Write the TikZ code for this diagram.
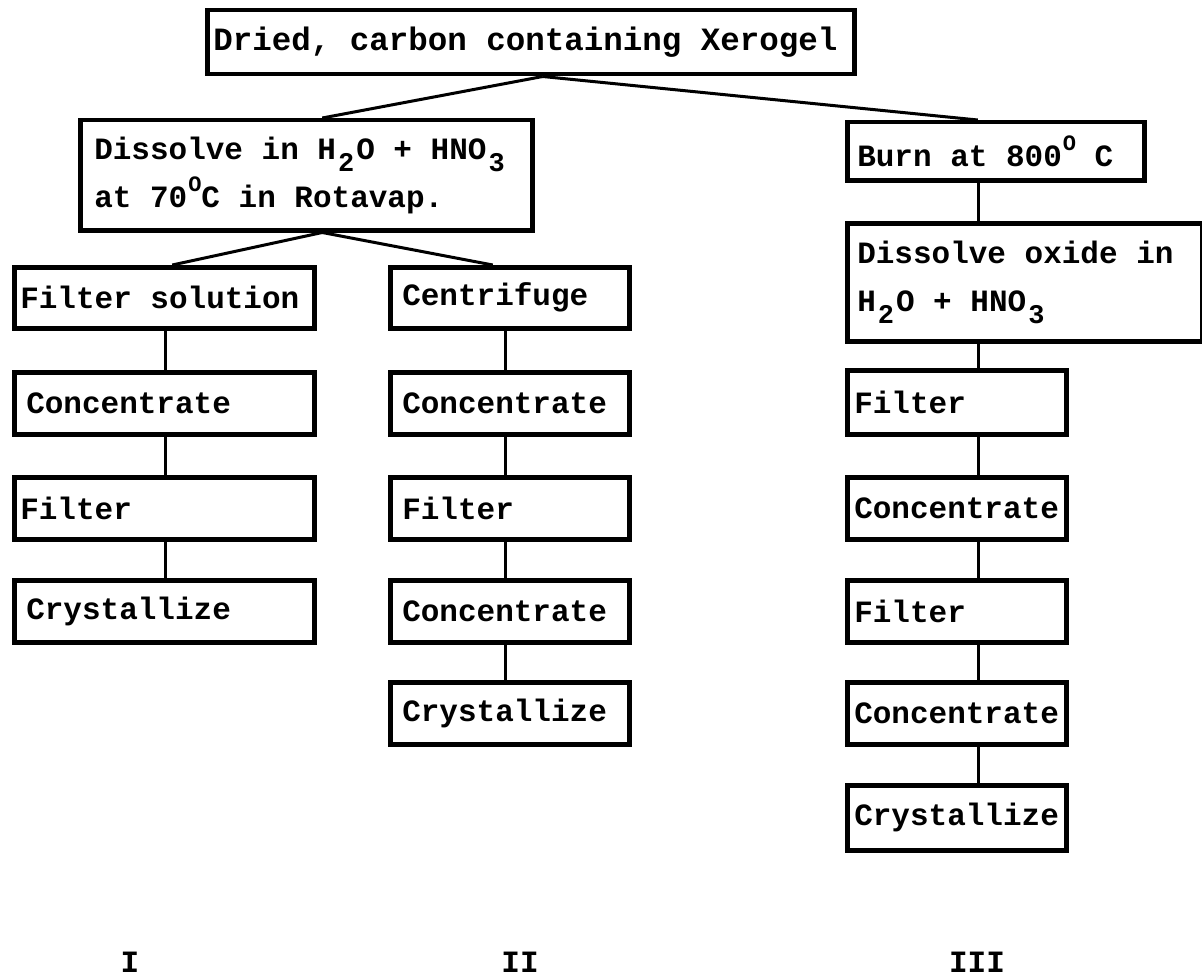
\documentclass[tikz,border=0pt]{standalone}
\usepackage{fontspec}
\newfontfamily\twfont{Liberation Mono}
\protected\def\bxfont{\twfont\bfseries\fontsize{31}{40}\selectfont}
\protected\def\bxfontlg{\twfont\bfseries\fontsize{32.5}{40}\selectfont}
\protected\def\ws{\hspace*{0.6em}}
\protected\def\sbx#1{\kern2pt\raisebox{-0.4em}{\fontsize{27}{27}\selectfont #1}\kern2pt}
\protected\def\spx#1{\kern1pt\raisebox{0.5em}{\fontsize{22}{22}\selectfont #1}}
\begin{document}
\begin{tikzpicture}[x=1pt,y=-1pt,
  every node/.style={font=\bxfont},
  stepbox/.style={draw, line width=4.5pt, anchor=north west, inner xsep=10pt, inner ysep=0pt, align=left},
  link/.style={line width=3pt}]
\useasboundingbox (0,0) rectangle (1202,979);
% top
\node[stepbox, minimum width=647pt, minimum height=64pt, text width=635pt, inner xsep=6pt, font=\bxfontlg] (top) at (205,8) {Dried,\ws carbon\ws containing\ws Xerogel};
% branch I/II parent
\node[stepbox, minimum width=452pt, minimum height=110pt, text width=424pt, inner xsep=14pt] (dis) at (78,118) {Dissolve\ws in\ws H\sbx{2}O\ws +\ws HNO\sbx{3}\\[4pt]at\ws 70\spx{O}C\ws in\ws Rotavap.};
% branch III
\node[stepbox, minimum width=297pt, minimum height=58pt, text width=277pt] (burn) at (845,120) {Burn\ws at\ws 800\spx{O}\ws C};
\node[stepbox, minimum width=355pt, minimum height=118pt, text width=335pt] (dox) at (845,221) {Dissolve\ws oxide\ws in\\[8pt]H\sbx{2}O\ws +\ws HNO\sbx{3}};
% column I
\node[stepbox, minimum width=300pt, minimum height=61pt, text width=288pt, inner xsep=6pt] (a1) at (12,265) {Filter\ws solution};
\node[stepbox, minimum width=300pt, minimum height=62pt, text width=276pt, inner xsep=12pt] (a2) at (12,370) {Concentrate};
\node[stepbox, minimum width=300pt, minimum height=62pt, text width=288pt, inner xsep=6pt] (a3) at (12,475) {Filter};
\node[stepbox, minimum width=300pt, minimum height=62pt, text width=276pt, inner xsep=12pt] (a4) at (12,578) {Crystallize};
% column II
\node[stepbox, minimum width=239pt, minimum height=61pt, text width=215pt, inner xsep=12pt] (b1) at (388,265) {Centrifuge};
\node[stepbox, minimum width=239pt, minimum height=62pt, text width=215pt, inner xsep=12pt] (b2) at (388,370) {Concentrate};
\node[stepbox, minimum width=239pt, minimum height=62pt, text width=215pt, inner xsep=12pt] (b3) at (388,475) {Filter};
\node[stepbox, minimum width=239pt, minimum height=62pt, text width=215pt, inner xsep=12pt] (b4) at (388,578) {Concentrate};
\node[stepbox, minimum width=239pt, minimum height=62pt, text width=215pt, inner xsep=12pt] (b5) at (388,680) {Crystallize};
% column III
\node[stepbox, minimum width=219pt, minimum height=64pt, text width=205pt, inner xsep=7pt] (c1) at (845,368) {Filter};
\node[stepbox, minimum width=219pt, minimum height=62pt, text width=205pt, inner xsep=7pt] (c2) at (845,475) {Concentrate};
\node[stepbox, minimum width=219pt, minimum height=62pt, text width=205pt, inner xsep=7pt] (c3) at (845,578) {Filter};
\node[stepbox, minimum width=219pt, minimum height=62pt, text width=205pt, inner xsep=7pt] (c4) at (845,680) {Concentrate};
\node[stepbox, minimum width=219pt, minimum height=65pt, text width=205pt, inner xsep=7pt] (c5) at (845,783) {Crystallize};
% labels
\node (l1) at (130,962) {I};
\node (l2) at (520,962) {II};
\node (l3) at (977,962) {III};
% column line positions
\coordinate (xa) at (165,0);
\coordinate (xb) at (505,0);
\coordinate (xc) at (978,0);
% connectors
\draw[link] ([xshift=12pt]top.south) -- ([xshift=16pt]dis.north);
\draw[link] ([xshift=12pt]top.south) -- ([xshift=-18pt]burn.north);
\draw[link] ([xshift=16pt]dis.south) -- ([xshift=8pt]a1.north);
\draw[link] ([xshift=16pt]dis.south) -- ([xshift=-17pt]b1.north);
\draw[link] (a1.south -| xa) -- (a2.north -| xa);
\draw[link] (a2.south -| xa) -- (a3.north -| xa);
\draw[link] (a3.south -| xa) -- (a4.north -| xa);
\draw[link] (b1.south -| xb) -- (b2.north -| xb);
\draw[link] (b2.south -| xb) -- (b3.north -| xb);
\draw[link] (b3.south -| xb) -- (b4.north -| xb);
\draw[link] (b4.south -| xb) -- (b5.north -| xb);
\draw[link] (burn.south -| xc) -- (dox.north -| xc);
\draw[link] (dox.south -| xc) -- (c1.north -| xc);
\draw[link] (c1.south -| xc) -- (c2.north -| xc);
\draw[link] (c2.south -| xc) -- (c3.north -| xc);
\draw[link] (c3.south -| xc) -- (c4.north -| xc);
\draw[link] (c4.south -| xc) -- (c5.north -| xc);
\end{tikzpicture}
\end{document}
